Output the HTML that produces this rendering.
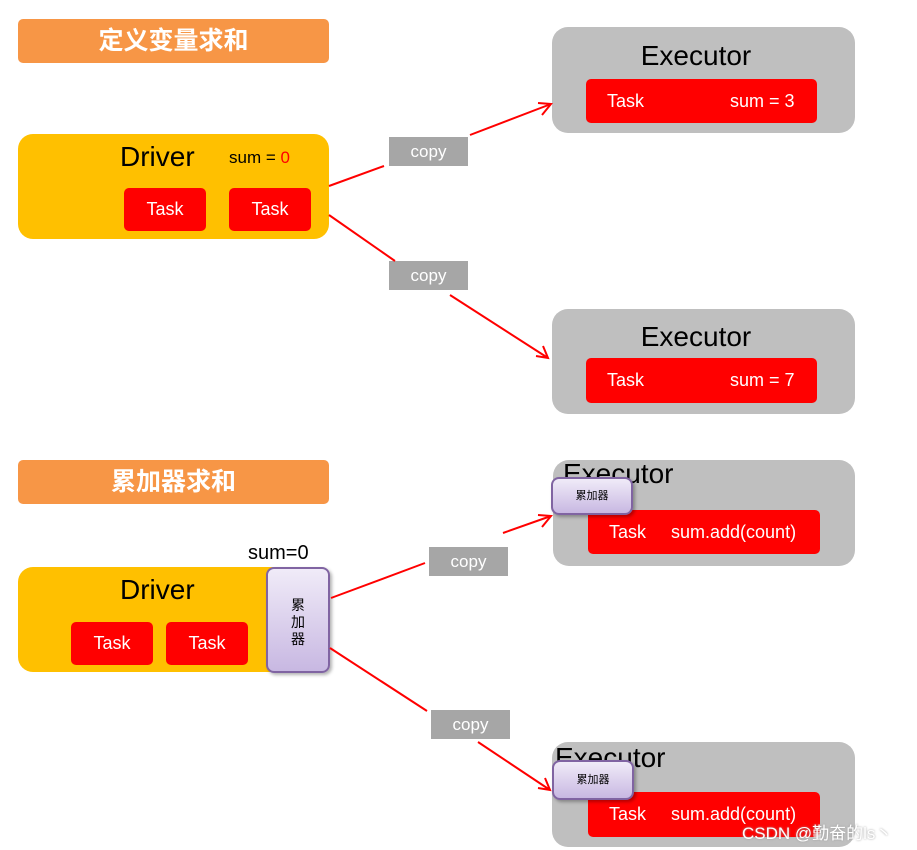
<!DOCTYPE html>
<html><head><meta charset="utf-8"><style>
body{margin:0;width:917px;height:850px;background:#fff;position:relative;overflow:hidden;font-family:"Liberation Sans","Noto Sans CJK SC",sans-serif}
div{position:absolute;box-sizing:border-box}
.t{background:#f79646;color:#fff;font-size:25px;font-weight:bold;text-align:center;border-radius:5px;line-height:44px}
.drv{background:#ffc000;border-radius:15px}
.ex{background:#bfbfbf;border-radius:16px}
.task{background:#f00;border-radius:5px;color:#fff;font-size:18px}
.cp{background:#a6a6a6;color:#fff;font-size:17px;text-align:center;line-height:29px}
.big{font-size:28px;color:#000}
.acc{background:linear-gradient(#f0ebf8,#c8b8e2);border:2px solid #8064a2;border-radius:8px;font-size:11px;text-align:center;box-shadow:2px 2px 3px rgba(0,0,0,.3)}
</style></head><body>
<div class="t" style="left:18px;top:19px;width:311px;height:44px">定义变量求和</div>
<div class="drv" style="left:18px;top:134px;width:311px;height:105px"></div>
<div class="big" style="left:120px;top:141px">Driver</div>
<div style="left:229px;top:148px;font-size:17px">sum = <span style="color:#f00">0</span></div>
<div class="task" style="left:124px;top:188px;width:82px;height:43px;text-align:center;line-height:43px">Task</div>
<div class="task" style="left:229px;top:188px;width:82px;height:43px;text-align:center;line-height:43px">Task</div>

<div class="ex" style="left:552px;top:27px;width:303px;height:106px"></div>
<div class="big" style="left:552px;width:288px;text-align:center;top:40px">Executor</div>
<div class="task" style="left:586px;top:79px;width:231px;height:44px;line-height:44px"><span style="position:absolute;left:21px">Task</span><span style="position:absolute;left:144px">sum = 3</span></div>

<div class="ex" style="left:552px;top:309px;width:303px;height:105px"></div>
<div class="big" style="left:552px;width:288px;text-align:center;top:321px">Executor</div>
<div class="task" style="left:586px;top:358px;width:231px;height:45px;line-height:45px"><span style="position:absolute;left:21px">Task</span><span style="position:absolute;left:144px">sum = 7</span></div>

<div class="t" style="left:18px;top:460px;width:311px;height:44px">累加器求和</div>
<div class="drv" style="left:18px;top:567px;width:300px;height:105px"></div>
<div class="big" style="left:120px;top:574px">Driver</div>
<div class="task" style="left:71px;top:622px;width:82px;height:43px;text-align:center;line-height:43px">Task</div>
<div class="task" style="left:166px;top:622px;width:82px;height:43px;text-align:center;line-height:43px">Task</div>
<div style="left:248px;top:542px;font-size:20px">sum=0</div>
<div class="acc" style="left:266px;top:567px;width:64px;height:106px;font-size:14px;line-height:17px;padding-top:28px">累<br>加<br>器</div>

<div class="ex" style="left:553px;top:460px;width:302px;height:106px;overflow:hidden"><div class="big" style="left:10px;top:-2px">Executor</div></div>
<div class="task" style="left:588px;top:510px;width:232px;height:44px;line-height:44px"><span style="position:absolute;left:21px">Task</span><span style="position:absolute;left:83px">sum.add(count)</span></div>
<div class="acc" style="left:551px;top:477px;width:82px;height:38px;line-height:34px">累加器</div>

<div class="ex" style="left:552px;top:742px;width:303px;height:105px;overflow:hidden"><div class="big" style="left:3px;top:0px">Executor</div></div>
<div class="task" style="left:588px;top:792px;width:232px;height:45px;line-height:45px"><span style="position:absolute;left:21px">Task</span><span style="position:absolute;left:83px">sum.add(count)</span></div>
<div class="acc" style="left:552px;top:760px;width:82px;height:40px;line-height:36px">累加器</div>

<div class="cp" style="left:389px;top:137px;width:79px;height:29px">copy</div>
<div class="cp" style="left:389px;top:261px;width:79px;height:29px">copy</div>
<div class="cp" style="left:429px;top:547px;width:79px;height:29px">copy</div>
<div class="cp" style="left:431px;top:710px;width:79px;height:29px">copy</div>

<svg style="position:absolute;left:0;top:0" width="917" height="850" fill="none" stroke="#f00" stroke-width="2">
<path d="M329 186L384 166M470 135L551 104M538 103L551 104L542 115"/>
<path d="M329 215L395 261M450 295L548 358M536 356L548 358L543 346"/>
<path d="M331 598L425 563M503 533L551 516M538 515L551 516L542 527"/>
<path d="M330 648L427 711M478 742L550 790M538 788L550 790L545 778"/>
</svg>
<div style="left:742px;top:819px;font-size:17px;color:#fff;text-shadow:0 0 2px #999">CSDN @勤奋的ls丶</div>
</body></html>
